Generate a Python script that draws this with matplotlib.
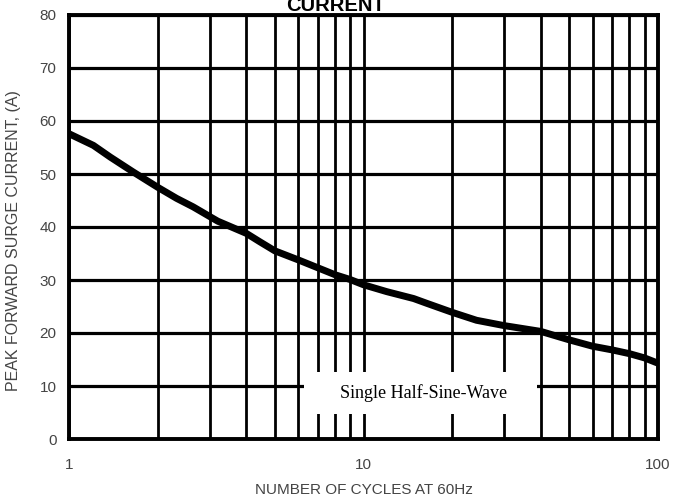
import matplotlib
matplotlib.use("Agg")
import matplotlib.pyplot as plt
from matplotlib.patches import Rectangle
from matplotlib.ticker import FixedLocator, NullFormatter

cycles = [1.0, 1.21, 1.38, 1.65, 2.0, 2.32, 2.64, 3.0, 3.2, 4.0, 4.45, 5.0, 6.0,
          7.0, 8.0, 9.0, 10.0, 12.0, 14.8, 16.4, 20.0, 24.2, 30.0, 40.0, 50.0,
          60.0, 70.0, 80.0, 90.0, 100.0]
current = [57.6, 55.4, 53.2, 50.4, 47.5, 45.4, 43.8, 42.0, 41.1, 38.8, 37.2, 35.5,
           33.8, 32.3, 31.0, 30.1, 29.1, 27.8, 26.5, 25.6, 23.9, 22.4, 21.4, 20.3,
           18.7, 17.5, 16.8, 16.1, 15.3, 14.3]

x_ticks = [1, 10, 100]
x_tick_labels = ["1", "10", "100"]
x_minor = [2, 3, 4, 5, 6, 7, 8, 9, 20, 30, 40, 50, 60, 70, 80, 90]
y_ticks = [0, 10, 20, 30, 40, 50, 60, 70, 80]

title = "CURRENT"
xlabel = "NUMBER OF CYCLES AT 60Hz"
ylabel = "PEAK FORWARD SURGE CURRENT, (A)"
note = "Single Half-Sine-Wave"

lab_font = ["Liberation Sans", "DejaVu Sans"]
lab_color = "#444444"

fig = plt.figure(figsize=(6.73, 4.98), dpi=100)
ax = fig.add_axes([69/673, 59/498, 589/673, 424/498])
ax.set_xscale("log")
ax.set_xlim(1, 100)
ax.set_ylim(0, 80)

ax.xaxis.set_major_locator(FixedLocator(x_ticks))
ax.xaxis.set_minor_locator(FixedLocator(x_minor))
ax.xaxis.set_minor_formatter(NullFormatter())
ax.set_xticks(x_ticks)
ax.set_xticklabels(x_tick_labels)
ax.set_yticks(y_ticks)
ax.set_yticklabels([str(v) for v in y_ticks])

ax.grid(True, which="major", axis="y", color="black", linewidth=2.3)
ax.grid(True, which="both", axis="x", color="black", linewidth=2.0)
ax.tick_params(axis="both", which="both", length=0)
ax.tick_params(axis="y", pad=9, labelsize=11, labelcolor=lab_color)
ax.tick_params(axis="x", pad=14, labelsize=11, labelcolor=lab_color)
for lbl in ax.get_xticklabels() + ax.get_yticklabels():
    lbl.set_family(lab_font)
for sp in ax.spines.values():
    sp.set_linewidth(2.8)
    sp.set_color("black")
    sp.set_zorder(5)

ax.plot(cycles, current, color="black", linewidth=5.0, solid_capstyle="butt",
        solid_joinstyle="round", zorder=4)

ax.add_patch(Rectangle((6.3, 4.8), 38.7 - 6.3, 12.7 - 4.8, facecolor="white",
                       edgecolor="none", zorder=3))
ax.text(16.05, 8.7, note, ha="center", va="center", fontsize=13,
        family=["Liberation Serif", "DejaVu Serif"], zorder=4)

ax.set_xlabel(xlabel, family=lab_font, fontsize=11, color=lab_color)
ax.xaxis.label.set_va("center")
ax.xaxis.set_label_coords(0.5, (439 - 490) / 424)
ax.set_ylabel(ylabel, family=lab_font, fontsize=11.5, color=lab_color)
ax.yaxis.label.set_va("center")
ax.yaxis.set_label_coords((14 - 69) / 589, (439 - 241) / 424)

fig.text(336/673, 1 - 5.5/498, title, ha="center", va="center", fontsize=14.5,
         fontweight="bold", family=["Liberation Sans", "DejaVu Sans"])

fig.savefig("out.png", dpi=100)
